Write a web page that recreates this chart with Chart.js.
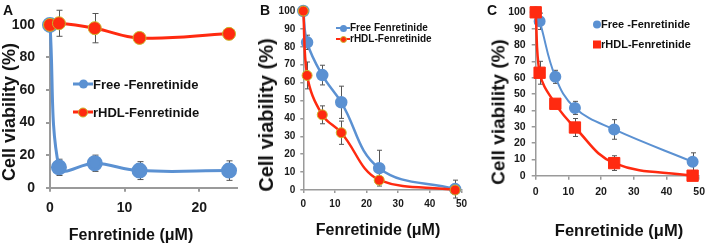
<!DOCTYPE html>
<html>
<head>
<meta charset="utf-8">
<script src="https://cdn.jsdelivr.net/npm/chart.js@4.4.1/dist/chart.umd.min.js"></script>
<style>
body { margin: 0; background: #fff; width: 711px; height: 247px; position: relative; overflow: hidden;
       font-family: "Liberation Sans", Arial, sans-serif; font-weight: bold; color: #111; }
canvas { position: absolute; top: 0; }
.t { position: absolute; white-space: nowrap; font-weight: bold; transform: translate(-50%, -50%); line-height: 1; }
.yt { transform: translate(-50%, -50%) rotate(-90deg); }
.lg { position: absolute; display: flex; align-items: center; white-space: nowrap; transform: translateY(-50%); line-height: 1; }
.mk { position: relative; flex: none; }
.mk i { position: absolute; display: block; }
</style>
</head>
<body>
<canvas id="cA" width="246" height="247" style="left:0px"></canvas>
<canvas id="cB" width="228" height="247" style="left:244px"></canvas>
<canvas id="cC" width="237" height="247" style="left:474px"></canvas>

<div class="t" style="left:8px;top:10px;font-size:14px">A</div>
<div class="t" style="left:265px;top:10px;font-size:14px">B</div>
<div class="t" style="left:492px;top:10px;font-size:14px">C</div>

<div class="t yt" style="left:9px;top:112px;font-size:18px">Cell viability (%)</div>
<div class="t yt" style="left:266px;top:115px;font-size:20px">Cell viability (%)</div>
<div class="t yt" style="left:498px;top:112px;font-size:19px">Cell viability (%)</div>

<div class="t" style="left:131px;top:235px;font-size:16px">Fenretinide (μM)</div>
<div class="t" style="left:378px;top:230px;font-size:16px">Fenretinide (μM)</div>
<div class="t" style="left:619px;top:230px;font-size:16.5px">Fenretinide (μM)</div>

<script>
// colours used across the three panels
const BLUE = '#5b91d2';
const RED = '#ff2a10';
const RED_EDGE = '#c9b62a';

// === PANEL A ===
const xA = [0, 1.2, 6, 12, 24];
const freeA = [100, 12.5, 15, 10.5, 10.5];
const freeAErr = [0, 5, 5, 5.5, 6];
const hdlA = [100, 101, 98, 92, 94.5];
const hdlAErr = [0, 8, 9, 3, 1.5];

// === PANEL B ===
const xB = [0, 1.2, 6, 12, 24, 48];
const freeB = [100, 82.5, 64.2, 49, 12.2, 0.5];
const freeBErr = [0, 4, 5.5, 9, 10, 5];
const hdlB = [100, 64, 42, 32, 5.5, 0];
const hdlBErr = [0, 7.5, 5, 6.5, 1, 0];

// === PANEL C ===
const xC = [0, 1.2, 6, 12, 24, 48];
const freeC = [100, 94.5, 60.5, 41.5, 28.3, 8.5];
const freeCErr = [0, 5, 4, 4, 6, 5.5];
const hdlC = [100, 63, 44, 29.5, 7.7, 0];
const hdlCErr = [0, 7, 1.5, 5.5, 4.5, 0];

// tick values shown on the x axes
const xTicksA = [0, 10, 20];
const xTicksBC = [0, 10, 20, 30, 40, 50];

const pts = (xs, ys) => xs.map((x, i) => ({ x, y: ys[i] }));

const errorBars = {
    id: 'errorBars',
    beforeDatasetsDraw(chart, args, opts) {
        const { ctx, scales: { x, y } } = chart;
        ctx.save();
        ctx.strokeStyle = '#555';
        ctx.lineWidth = 1;
        chart.data.datasets.forEach(ds => {
            ds.data.forEach((p, i) => {
                const e = ds.errors[i];
                if (!e) return;
                const px = Math.round(x.getPixelForValue(p.x)) + 0.5;
                const top = y.getPixelForValue(p.y + e);
                const bot = y.getPixelForValue(p.y - e);
                const c = opts.cap || 3;
                ctx.beginPath();
                ctx.moveTo(px, top); ctx.lineTo(px, bot);
                ctx.moveTo(px - c, top); ctx.lineTo(px + c, top);
                ctx.moveTo(px - c, bot); ctx.lineTo(px + c, bot);
                ctx.stroke();
            });
        });
        ctx.restore();
    }
};

function makePanel(p) {
    const ctx = document.getElementById(p.id).getContext('2d');
    const tickFont = { size: p.tickFont, weight: 'bold', family: 'Liberation Sans' };
    const chart = new Chart(ctx, {
        type: 'line',
        data: {
            datasets: [
                { data: pts(p.xs, p.hdl), errors: p.hdlErr, borderColor: RED, borderWidth: p.redW,
                  pointStyle: p.redStyle, pointRadius: p.redR, pointBackgroundColor: RED,
                  pointBorderColor: p.redEdge, pointBorderWidth: 1, tension: 0.4, clip: false },
                { data: pts(p.xs, p.free), errors: p.freeErr, borderColor: BLUE, borderWidth: p.blueW,
                  pointRadius: p.blueR, pointBackgroundColor: BLUE, pointBorderColor: BLUE,
                  tension: 0.4, clip: false }
            ]
        },
        options: {
            responsive: false, animation: false,
            layout: { padding: { left: 0, right: 0, top: 0, bottom: 0 } },
            plugins: { legend: { display: false }, tooltip: { enabled: false }, errorBars: { cap: p.cap } },
            scales: {
                x: {
                    type: 'linear', min: 0, max: p.xMax,
                    afterBuildTicks: s => { s.ticks = p.xTicks.map(v => ({ value: v })); },
                    grid: { drawOnChartArea: false, color: '#9a9a9a', tickLength: p.tl, lineWidth: p.axisW },
                    border: { color: '#9a9a9a', width: p.axisW },
                    ticks: { color: '#1a1a1a', padding: p.xPad, maxRotation: 0, font: tickFont }
                },
                y: {
                    min: 0, max: 100,
                    ticks: { stepSize: p.yStep, color: '#1a1a1a', padding: p.yPad, font: tickFont },
                    grid: { drawOnChartArea: false, color: '#9a9a9a', tickLength: p.tl, lineWidth: p.axisW },
                    border: { color: '#9a9a9a', width: p.axisW }
                }
            }
        },
        plugins: [errorBars]
    });
    // nudge the padding so the plot area lands where it sits in the figure
    for (let k = 0; k < 3; k++) {
        const a = chart.chartArea, pad = chart.options.layout.padding;
        pad.left += p.box.left - a.left;
        pad.top += p.box.top - a.top;
        pad.right += a.right - p.box.right;
        pad.bottom += a.bottom - p.box.bottom;
        chart.update('none');
    }
    return chart;
}

makePanel({ id: 'cA', xs: xA, free: freeA, freeErr: freeAErr, hdl: hdlA, hdlErr: hdlAErr,
    xMax: 25, xTicks: xTicksA, yStep: 20, tickFont: 14, tl: 4, xPad: 8, yPad: 11, axisW: 2,
    blueW: 3, redW: 3, blueR: 6.5, redR: 6.5, redStyle: 'circle', redEdge: RED_EDGE, cap: 3,
    box: { left: 50, right: 240, top: 27.7, bottom: 187.7 } });

makePanel({ id: 'cB', xs: xB, free: freeB, freeErr: freeBErr, hdl: hdlB, hdlErr: hdlBErr,
    xMax: 50, xTicks: xTicksBC, yStep: 10, tickFont: 10, tl: 3, xPad: 5, yPad: 5, axisW: 1.5,
    blueW: 2.5, redW: 2.5, blueR: 5, redR: 5, redStyle: 'circle', redEdge: RED_EDGE, cap: 2.5,
    box: { left: 59.3, right: 222.7, top: 7.3, bottom: 190 } });

makePanel({ id: 'cC', xs: xC, free: freeC, freeErr: freeCErr, hdl: hdlC, hdlErr: hdlCErr,
    xMax: 50, xTicks: xTicksBC, yStep: 10, tickFont: 10.5, tl: 4, xPad: 6, yPad: 6, axisW: 1.5,
    blueW: 2, redW: 2.5, blueR: 5, redR: 8, redStyle: 'rect', redEdge: RED, cap: 2.5,
    box: { left: 61.7, right: 229.3, top: 7.3, bottom: 175.7 } });

// === LEGENDS ===
function legend(x, y, label, o) {
    const el = document.createElement('div');
    el.className = 'lg';
    el.style.left = x + 'px';
    el.style.top = y + 'px';
    el.style.fontSize = o.font + 'px';
    const mk = document.createElement('span');
    mk.className = 'mk';
    const w = Math.max(o.line, o.size);
    mk.style.width = w + 'px';
    mk.style.height = o.size + 'px';
    if (o.line) {
        const ln = document.createElement('i');
        Object.assign(ln.style, { left: '0px', width: o.line + 'px', top: (o.size - o.lw) / 2 + 'px', height: o.lw + 'px', background: o.color });
        mk.appendChild(ln);
    }
    const dot = document.createElement('i');
    Object.assign(dot.style, { left: (w - o.size) / 2 + 'px', top: '0px', width: o.size + 'px', height: o.size + 'px',
        background: o.color, borderRadius: o.square ? '0' : '50%', boxSizing: 'border-box',
        border: o.edge ? '1px solid ' + o.edge : 'none' });
    mk.appendChild(dot);
    el.appendChild(mk);
    el.appendChild(document.createTextNode(label));
    document.body.appendChild(el);
}

legend(73, 84, 'Free -Fenretinide', { font: 13, line: 20, lw: 3, size: 9, color: BLUE });
legend(73, 112, 'rHDL-Fenretinide', { font: 13, line: 20, lw: 3, size: 10, color: RED, edge: RED_EDGE });
legend(336, 28, 'Free Fenretinide', { font: 10, line: 14, lw: 2.5, size: 7, color: BLUE });
legend(336, 39, 'rHDL-Fenretinide', { font: 10, line: 14, lw: 2.5, size: 7, color: RED, edge: RED_EDGE });
legend(593, 24, 'Free -Fenretinide', { font: 11, line: 0, lw: 0, size: 8, color: BLUE });
legend(593, 44, 'rHDL-Fenretinide', { font: 11, line: 0, lw: 0, size: 8, color: RED, square: true });
</script>
</body>
</html>
